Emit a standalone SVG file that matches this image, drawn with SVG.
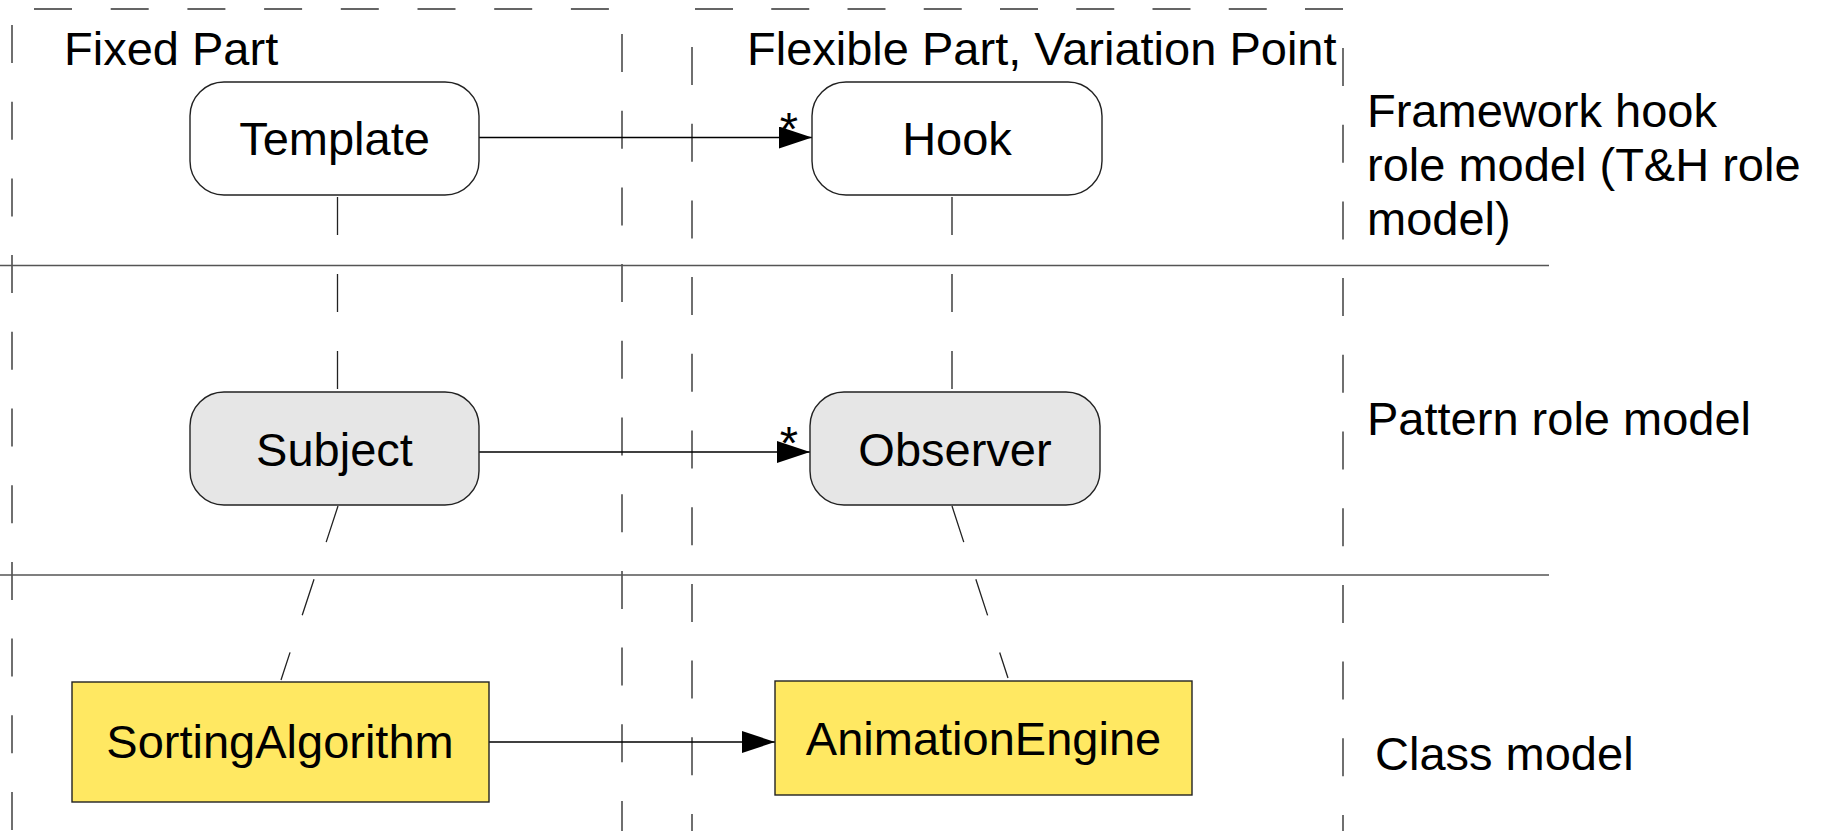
<svg xmlns="http://www.w3.org/2000/svg" width="1827" height="831" viewBox="0 0 1827 831">
  <style>
    text { font-family: "Liberation Sans", Arial, sans-serif; font-size: 47px; fill: #000; }
    .mid { text-anchor: middle; }
    .frame { stroke: #333; stroke-width: 1.4; fill: none; stroke-dasharray: 38 38.7; }
    .sep { stroke: #555; stroke-width: 1.6; fill: none; }
    .trace { stroke: #222; stroke-width: 1.3; fill: none; stroke-dasharray: 38 39; }
    .assoc { stroke: #000; stroke-width: 1.4; fill: none; }
    .role { stroke: #222; stroke-width: 1.4; }
    .plain { fill: #ffffff; }
    .pattern { fill: #e6e6e6; }
    .cls { fill: #ffe862; stroke: #222; stroke-width: 1.4; }
  </style>
  <defs>
    <marker id="arrow" markerUnits="userSpaceOnUse" markerWidth="34" markerHeight="24" refX="33" refY="11" orient="auto">
      <path d="M0,0 L33,11 L0,22 Z" fill="#000"/>
    </marker>
  </defs>

  <rect width="1827" height="831" fill="#ffffff"/>

  <!-- column frames: fixed part (left) and flexible part (right) -->
  <g id="frames">
    <line class="frame" x1="34" y1="9" x2="612" y2="9"/>
    <line class="frame" x1="12" y1="25" x2="12" y2="831"/>
    <line class="frame" x1="622" y1="34" x2="622" y2="831"/>
    <line class="frame" x1="695" y1="9" x2="1343" y2="9" style="stroke-dasharray:38 38.25"/>
    <line class="frame" x1="692" y1="47" x2="692" y2="831"/>
    <line class="frame" x1="1343" y1="48" x2="1343" y2="831"/>
  </g>

  <!-- layer separators -->
  <g id="separators">
    <line class="sep" x1="0" y1="265.5" x2="1549" y2="265.5"/>
    <line class="sep" x1="0" y1="575" x2="1549" y2="575"/>
  </g>

  <!-- headings and layer labels -->
  <g id="labels">
    <text x="64" y="65">Fixed Part</text>
    <text x="747" y="65">Flexible Part, Variation Point</text>
    <text x="1367" y="127">Framework hook</text>
    <text x="1367" y="181">role model (T&amp;H role</text>
    <text x="1367" y="235">model)</text>
    <text x="1367" y="435">Pattern role model</text>
    <text x="1375" y="770">Class model</text>
  </g>

  <!-- connectors -->
  <g id="connectors">
    <line class="trace" x1="337.5" y1="197" x2="337.5" y2="392"/>
    <line class="trace" x1="952" y1="197" x2="952" y2="392"/>
    <line class="trace" x1="338" y1="506" x2="281" y2="680"/>
    <line class="trace" x1="952" y1="506" x2="1008" y2="678"/>
    <line class="assoc" x1="479" y1="137.5" x2="812" y2="137.5" marker-end="url(#arrow)"/>
    <text class="mid" x="789" y="145">*</text>
    <line class="assoc" x1="479" y1="452" x2="810" y2="452" marker-end="url(#arrow)"/>
    <text class="mid" x="789" y="459">*</text>
    <line class="assoc" x1="489" y1="742" x2="775" y2="742" marker-end="url(#arrow)"/>
  </g>

  <!-- framework hook role model -->
  <g id="template">
    <rect class="role plain" x="190" y="82" width="289" height="113" rx="34" ry="34"/>
    <text class="mid" x="334.5" y="155">Template</text>
  </g>
  <g id="hook">
    <rect class="role plain" x="812" y="82" width="290" height="113" rx="34" ry="34"/>
    <text class="mid" x="957" y="155">Hook</text>
  </g>

  <!-- pattern role model -->
  <g id="subject">
    <rect class="role pattern" x="190" y="392" width="289" height="113" rx="34" ry="34"/>
    <text class="mid" x="334.5" y="466">Subject</text>
  </g>
  <g id="observer">
    <rect class="role pattern" x="810" y="392" width="290" height="113" rx="34" ry="34"/>
    <text class="mid" x="955" y="466">Observer</text>
  </g>

  <!-- class model -->
  <g id="sorting-algorithm">
    <rect class="cls" x="72" y="682" width="417" height="120"/>
    <text class="mid" x="280" y="758">SortingAlgorithm</text>
  </g>
  <g id="animation-engine">
    <rect class="cls" x="775" y="681" width="417" height="114"/>
    <text class="mid" x="983.5" y="755">AnimationEngine</text>
  </g>
</svg>
